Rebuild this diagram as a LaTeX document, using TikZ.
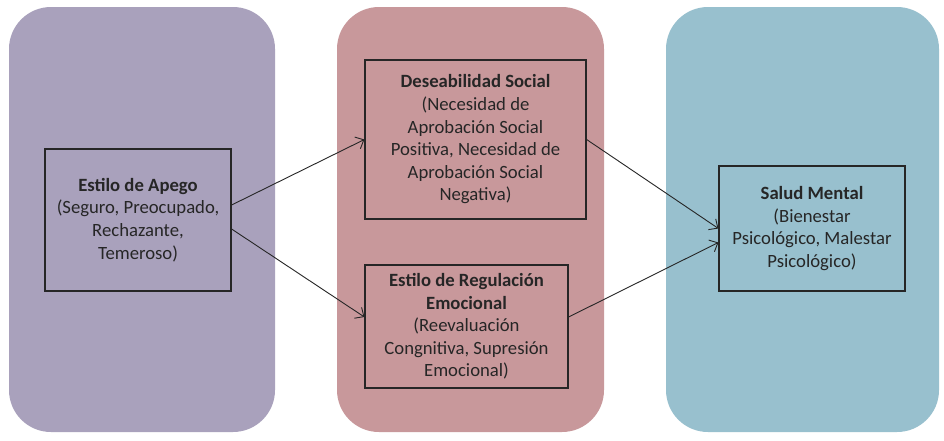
\documentclass[tikz,border=0pt]{standalone}
\usepackage{fontspec}
\setmainfont{Carlito}
\usetikzlibrary{arrows.meta}
\definecolor{panelA}{HTML}{A9A1BC}
\definecolor{panelB}{HTML}{C8989B}
\definecolor{panelC}{HTML}{98C0CE}
\definecolor{ink}{HTML}{262626}
\tikzset{
  panel/.style={rounded corners=42pt},
  box/.style={draw=ink, line width=1.2pt, align=center, text=ink, inner sep=0pt,
    font=\fontsize{18.7}{22.6}\selectfont},
  conn/.style={draw=ink, line width=0.9pt, -{Straight Barb[length=7pt,width=13pt]}}
}
\begin{document}
\begin{tikzpicture}[x=1pt,y=-1pt]
\useasboundingbox (0,0) rectangle (944,440);
\fill[white] (0,0) rectangle (944,440);
\fill[panelA,panel] (9,7) rectangle (275,432);
\fill[panelB,panel] (337,7) rectangle (604,432);
\fill[panelC,panel] (666,7) rectangle (939,432);

\node[box, minimum width=186pt, minimum height=142pt] (apego) at (138,220)
  {\textbf{Estilo de Apego}\\(Seguro, Preocupado,\\Rechazante,\\Temeroso)};
\node[box, minimum width=221pt, minimum height=159pt] (deseab) at (475.5,139.5)
  {\textbf{Deseabilidad Social}\\(Necesidad de\\Aprobación Social\\Positiva, Necesidad de\\Aprobación Social\\Negativa)};
\node[box, minimum width=203pt, minimum height=123pt] (regul) at (466.5,326.5)
  {\textbf{Estilo de Regulación}\\\textbf{Emocional}\\(Reevaluación\\Congnitiva, Supresión\\Emocional)};
\node[box, minimum width=186pt, minimum height=125pt] (salud) at (812,228.5)
  {\textbf{Salud Mental}\\(Bienestar\\Psicológico, Malestar\\Psicológico)};

\draw[conn] ([yshift=15pt]apego.east) -- (deseab.west);
\draw[conn] ([yshift=-9pt]apego.east) -- ([yshift=9.5pt]regul.west);
\draw[conn] (deseab.east) -- (salud.west);
\draw[conn] ([yshift=9.5pt]regul.east) -- ([yshift=-14pt]salud.west);
\end{tikzpicture}
\end{document}
